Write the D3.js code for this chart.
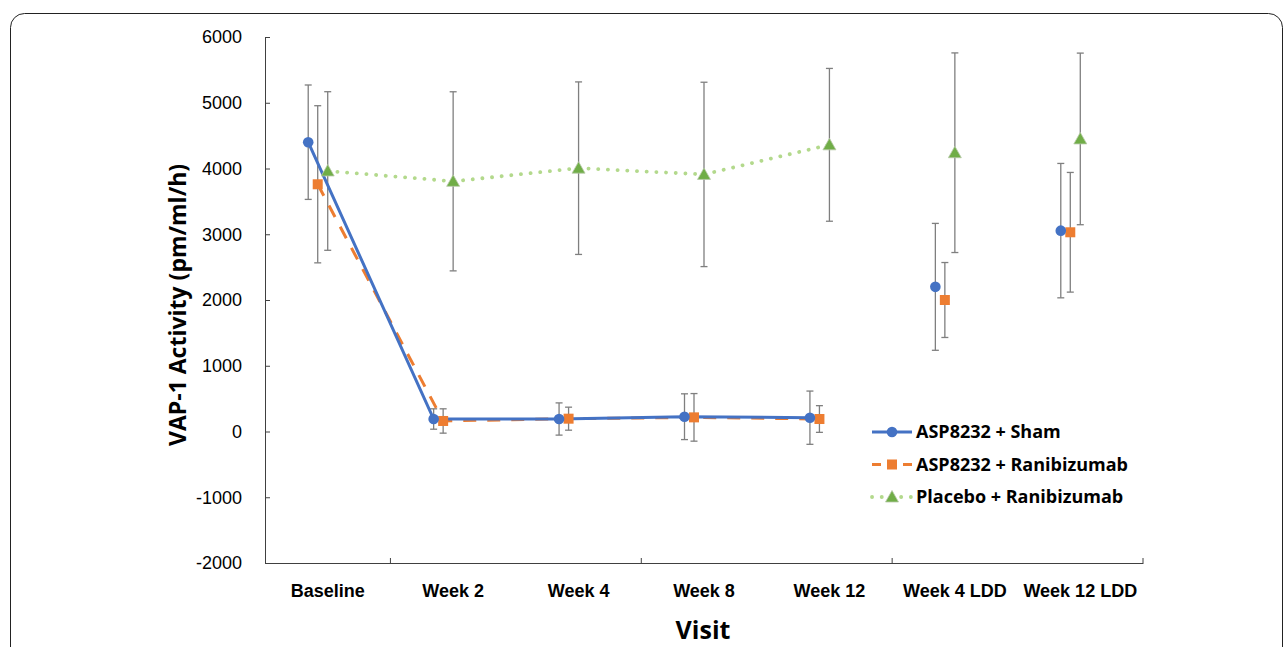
<!DOCTYPE html>
<html>
<head>
<meta charset="utf-8">
<script src="https://cdn.jsdelivr.net/npm/d3@7"></script>
<style>
  body { margin: 0; background: #fff; }
  svg { display: block; font-family: "Open Sans", sans-serif; }
  .tick text { fill: #000; }
</style>
</head>
<body>
<svg id="chart" width="1285" height="647"></svg>
<script>
// visits on the horizontal axis
const visits = ["Baseline", "Week 2", "Week 4", "Week 8", "Week 12", "Week 4 LDD", "Week 12 LDD"];
// only the treatment-period visits are joined by a line
const joined = [true, true, true, true, true, false, false];

// VAP-1 activity, mean and error (pm/ml/h)
const shamMean = [4400, 190, 190, 225, 210, 2200, 3055];
const shamErr = [870, 155, 245, 348, 405, 965, 1022];
const raniMean = [3760, 160, 195, 215, 190, 2000, 3030];
const raniErr = [1195, 185, 175, 362, 203, 570, 910];
const placeboMean = [3962, 3805, 4005, 3910, 4360, 4240, 4450];
const placeboErr = [1206, 1362, 1312, 1402, 1162, 1518, 1305];

const yTicks = [-2000, -1000, 0, 1000, 2000, 3000, 4000, 5000, 6000];

const series = [
  { name: "Placebo + Ranibizumab", mean: placeboMean, err: placeboErr, shift: 0,
    line: "#b3d98c", width: 3.8, dash: "0.1 9.6", cap: "round", marker: "triangle", fill: "#70ad47" },
  { name: "ASP8232 + Ranibizumab", mean: raniMean, err: raniErr, shift: -10,
    line: "#ed7d31", width: 3, dash: "13 11", cap: "butt", marker: "square", fill: "#ed7d31" },
  { name: "ASP8232 + Sham", mean: shamMean, err: shamErr, shift: -19.5,
    line: "#4472c4", width: 3, dash: null, cap: "butt", marker: "circle", fill: "#4472c4" }
];

const SVG = d3.select("#chart");
const plotLeft = 265, plotRight = 1143, plotTop = 37, plotBottom = 563;

// outer frame with rounded corner
SVG.append("rect")
  .attr("x", 10.5).attr("y", 13.5)
  .attr("width", 1272).attr("height", 700)
  .attr("rx", 14)
  .attr("fill", "none")
  .attr("stroke", "#222")
  .attr("stroke-width", 1);

const x = d3.scaleBand().domain(visits).range([plotLeft, plotRight]).padding(0);
const y = d3.scaleLinear().domain([-2000, 6000]).range([plotBottom, plotTop]);
const cx = (i, s) => x(visits[i]) + x.bandwidth() / 2 + s.shift;

// y axis, ticks pointing inside
const yAxis = SVG.append("g")
  .attr("transform", `translate(${plotLeft},0)`)
  .call(d3.axisLeft(y).tickValues(yTicks).tickFormat(d => String(d))
    .tickSize(-5).tickSizeOuter(0).tickPadding(23));
yAxis.selectAll("text").style("font-size", "18px");
yAxis.selectAll("line, path").attr("stroke", "#404040");

// x axis labels
const xAxis = SVG.append("g")
  .attr("transform", `translate(0,${plotBottom})`)
  .call(d3.axisBottom(x).tickSize(0).tickPadding(21).tickSizeOuter(0));
xAxis.selectAll("text").style("font-size", "18px").style("font-weight", "bold");
xAxis.select("path").attr("stroke", "#404040");

// x tick marks every second category boundary
SVG.append("g").selectAll("line")
  .data([1, 3, 5, 7])
  .enter().append("line")
  .attr("x1", d => plotLeft + d * x.bandwidth())
  .attr("x2", d => plotLeft + d * x.bandwidth())
  .attr("y1", plotBottom).attr("y2", plotBottom - 5)
  .attr("stroke", "#404040");

// axis titles
SVG.append("text")
  .attr("transform", "translate(186,305) rotate(-90)")
  .attr("text-anchor", "middle")
  .style("font-size", "23px").style("font-weight", "bold")
  .text("VAP-1 Activity (pm/ml/h)");

SVG.append("text")
  .attr("x", 703).attr("y", 639)
  .attr("text-anchor", "middle")
  .style("font-size", "25px").style("font-weight", "bold")
  .text("Visit");

// error bars
const errGroup = SVG.append("g");
series.forEach(s => {
  s.mean.forEach((m, i) => {
    const g = errGroup.append("g").attr("stroke", "#7f7f7f").attr("stroke-width", 1.3);
    const px = cx(i, s);
    g.append("line").attr("x1", px).attr("x2", px).attr("y1", y(m - s.err[i])).attr("y2", y(m + s.err[i]));
    [m - s.err[i], m + s.err[i]].forEach(v => {
      g.append("line").attr("x1", px - 3.5).attr("x2", px + 3.5).attr("y1", y(v)).attr("y2", y(v));
    });
  });
});

// lines
const line = d3.line()
  .defined((d, i) => joined[i])
  .x(d => d.x).y(d => d.y);

series.forEach(s => {
  const pts = s.mean.map((m, i) => ({ x: cx(i, s), y: y(m) }));
  SVG.append("path")
    .datum(pts)
    .attr("d", line)
    .attr("fill", "none")
    .attr("stroke", s.line)
    .attr("stroke-width", s.width)
    .attr("stroke-linecap", s.cap)
    .attr("stroke-dasharray", s.dash);
});

function drawMarker(g, s, px, py) {
  if (s.marker === "circle") {
    g.append("circle").attr("cx", px).attr("cy", py).attr("r", 5.3).attr("fill", s.fill);
  } else if (s.marker === "square") {
    g.append("rect").attr("x", px - 5).attr("y", py - 5).attr("width", 10).attr("height", 10).attr("fill", s.fill);
  } else {
    g.append("path")
      .attr("d", `M${px},${py - 6.5}L${px + 6.5},${py + 5}L${px - 6.5},${py + 5}Z`)
      .attr("fill", s.fill).attr("stroke", "#b8c9a8").attr("stroke-width", 0.8);
  }
}

// markers
series.forEach(s => {
  const g = SVG.append("g");
  s.mean.forEach((m, i) => drawMarker(g, s, cx(i, s), y(m)));
});

// legend
const legendOrder = [series[2], series[1], series[0]];
const legend = SVG.append("g").attr("class", "legend");
legendOrder.forEach((s, k) => {
  const ly = 432 + k * 32.5;
  const g = legend.append("g");
  g.append("line")
    .attr("x1", 872).attr("x2", 912).attr("y1", ly).attr("y2", ly)
    .attr("stroke", s.line).attr("stroke-width", s.width)
    .attr("stroke-linecap", s.cap)
    .attr("stroke-dasharray", s.marker === "square" ? "9 22" : s.dash);
  drawMarker(g, s, 892, ly);
  g.append("text")
    .attr("x", 916).attr("y", ly).attr("dy", "0.36em")
    .style("font-size", "18px").style("font-weight", "bold")
    .text(s.name);
});
</script>
</body>
</html>
